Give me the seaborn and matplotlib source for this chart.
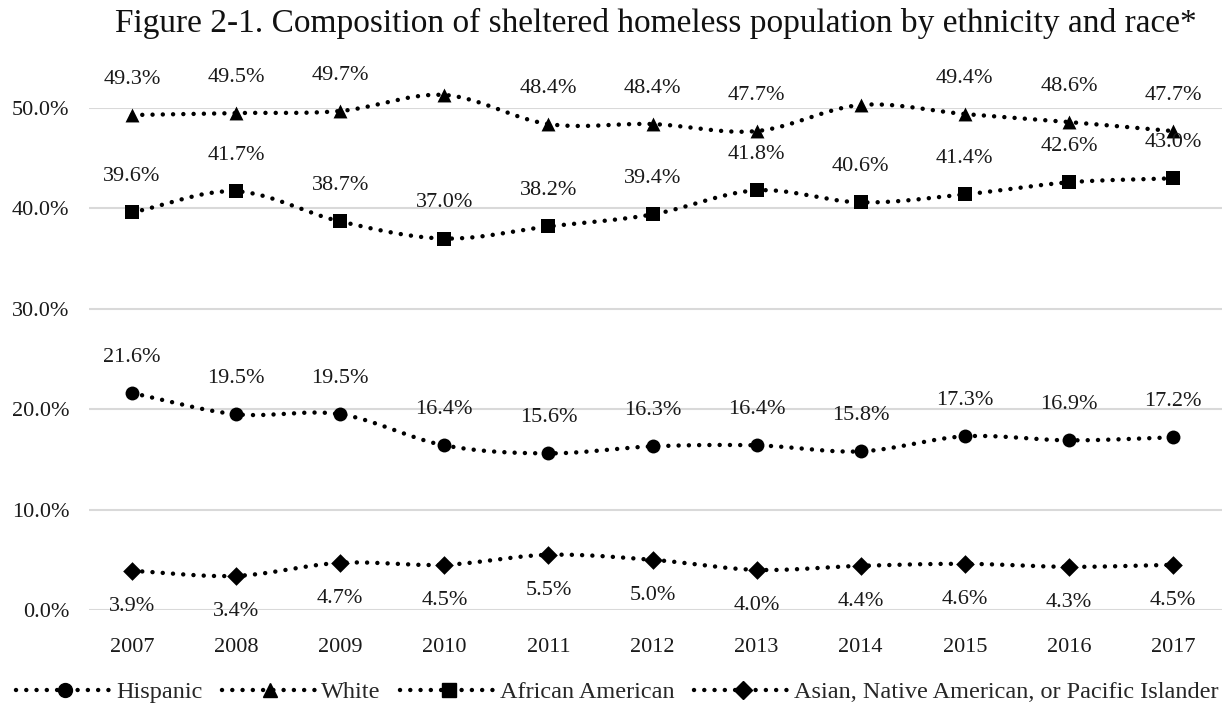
import numpy as np
import pandas as pd
import matplotlib
matplotlib.use("Agg")
import matplotlib.pyplot as plt
from matplotlib.lines import Line2D
import seaborn as sns

years = ["2007", "2008", "2009", "2010", "2011", "2012", "2013", "2014", "2015", "2016", "2017"]
hispanic = [21.6, 19.5, 19.5, 16.4, 15.6, 16.3, 16.4, 15.8, 17.3, 16.9, 17.2]
white = [49.3, 49.5, 49.7, 51.3, 48.4, 48.4, 47.7, 50.3, 49.4, 48.6, 47.7]
african_american = [39.6, 41.7, 38.7, 37.0, 38.2, 39.4, 41.8, 40.6, 41.4, 42.6, 43.0]
asian_native_pi = [3.9, 3.4, 4.7, 4.5, 5.5, 5.0, 4.0, 4.4, 4.6, 4.3, 4.5]

series_names = ["Hispanic", "White", "African American",
                "Asian, Native American, or Pacific Islander"]
series_values = [hispanic, white, african_american, asian_native_pi]
markers = ["o", "^", "s", "D"]
marker_sizes = [10, 10, 10, 9.5]
label_above = [True, True, True, False]

sns.set_theme(style="white")
serif = ["Liberation Serif", "DejaVu Serif"]
plt.rcParams["font.family"] = serif

df = pd.DataFrame({
    "year": np.tile(np.arange(len(years)), len(series_names)),
    "share": np.concatenate(series_values) / 100.0,
    "group": np.repeat(series_names, len(years)),
})

fig = plt.figure(figsize=(12.22, 7.17), dpi=100)
ax = fig.add_axes([89 / 1222, 1 - 610 / 717, 1 - 89 / 1222, (610 - 108) / 717])

dotted = dict(linestyle=(0, (0.01, 2.3)), dash_capstyle="round", linewidth=3.2, color="black")


def catmull_rom(x, y, n=30):
    """Smooth curve through the points (Catmull-Rom spline)."""
    x = np.asarray(x, float)
    y = np.asarray(y, float)
    px = np.concatenate([[2 * x[0] - x[1]], x, [2 * x[-1] - x[-2]]])
    py = np.concatenate([[2 * y[0] - y[1]], y, [2 * y[-1] - y[-2]]])
    xs, ys = [], []
    t = np.linspace(0, 1, n, endpoint=False)
    for i in range(1, len(px) - 2):
        for p, out in ((px, xs), (py, ys)):
            p0, p1, p2, p3 = p[i - 1], p[i], p[i + 1], p[i + 2]
            out.append(0.5 * ((2 * p1) + (-p0 + p2) * t
                              + (2 * p0 - 5 * p1 + 4 * p2 - p3) * t ** 2
                              + (-p0 + 3 * p1 - 3 * p2 + p3) * t ** 3))
    xs.append(np.array([x[-1]]))
    ys.append(np.array([y[-1]]))
    return np.concatenate(xs), np.concatenate(ys)


for name, mk, ms, above in zip(series_names, markers, marker_sizes, label_above):
    sub = df[df["group"] == name]
    sx, sy = catmull_rom(sub["year"].values, sub["share"].values)
    ax.plot(sx, sy, clip_on=False, zorder=2, **dotted)
    sns.scatterplot(data=sub, x="year", y="share", marker=mk, s=ms ** 2,
                    color="black", edgecolor="black", linewidth=0, ax=ax,
                    zorder=3, clip_on=False, legend=False)
    for xi, yi in zip(sub["year"], sub["share"]):
        ax.annotate(f"{yi * 100:.1f}%", (xi, yi),
                    xytext=(0, 36 if above else -36), textcoords="offset pixels",
                    ha="center", va="center", fontsize=16, color="#1a1a1a",
                    zorder=4)

ax.set_xlim(-0.413, 10.47)
ax.set_ylim(0, 0.5)
ax.set_yticks(np.arange(0, 0.51, 0.1))
ax.set_yticklabels([f"{v * 100:.1f}%" for v in np.arange(0, 0.51, 0.1)])
ax.set_xticks(range(len(years)))
ax.set_xticklabels(years)
ax.tick_params(axis="both", length=0, labelsize=16, labelcolor="#1a1a1a")
ax.tick_params(axis="x", pad=20)
ax.tick_params(axis="y", pad=14)
ax.set_xlabel("")
ax.set_ylabel("")
ax.grid(axis="y", color="#d9d9d9", linewidth=1.5)
ax.set_axisbelow(True)
for s in ax.spines.values():
    s.set_visible(False)

fig.text(0.537, 1 - 23 / 717,
         "Figure 2-1. Composition of sheltered homeless population by ethnicity and race*",
         ha="center", va="center", fontsize=24, color="#111111")

handles = [Line2D([0], [0], marker=mk, markersize=ms, markerfacecolor="black",
                  markeredgecolor="black", **dotted)
           for mk, ms in zip(markers, marker_sizes)]
fig.legend(handles, series_names, loc="center", bbox_to_anchor=(0.505, 1 - 692 / 717),
           ncol=4, frameon=False, prop=dict(family=serif, size=17.5),
           handlelength=4.0, handletextpad=0.1, columnspacing=0.8, borderaxespad=0)

fig.savefig("out.png", dpi=100, facecolor="white")
